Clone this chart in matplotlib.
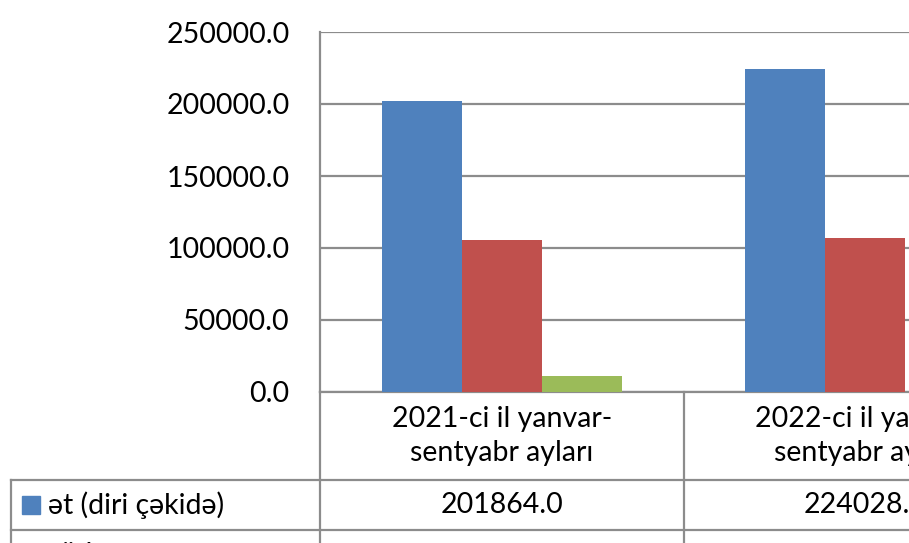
import matplotlib
matplotlib.use("Agg")
import matplotlib.pyplot as plt
from matplotlib.patches import Rectangle
from matplotlib.transforms import blended_transform_factory

# data
categories = ["2021-ci il yanvar-\nsentyabr ayları", "2022-ci il yanvar-\nsentyabr ayları"]
series_names = ["ət (diri çəkidə)", "süd", "yun"]
et = [201864.0, 224028.0]
sud = [105700.0, 107100.0]
yun = [10800.0, 0.0]
colors = ["#4F81BD", "#C0504D", "#9BBB59"]
yticks = [0, 50000, 100000, 150000, 200000, 250000]

grid_c = "#8C8C8C"
fs = 20.5
W, H = 909, 543
fig = plt.figure(figsize=(W / 100, H / 100), dpi=100)
plt.rcParams["font.family"] = ["Lato", "DejaVu Sans"]

# plot area in pixels (extends past right edge like the cropped original)
left_px, top_px, bot_px = 320, 32, 392
cat_px = 363.5
ax = fig.add_axes([left_px / W, 1 - bot_px / H, 2 * cat_px / W, (bot_px - top_px) / H])

bw = 0.22
for i, (vals, c) in enumerate(zip([et, sud, yun], colors)):
    xs = [k + (i - 1) * bw for k in range(len(categories))]
    ax.bar(xs, vals, width=bw, color=c, zorder=3)

ax.set_xlim(-0.5, 1.5)
ax.set_ylim(0, 250000)
ax.set_yticks(yticks)
ax.set_yticklabels([f"{v:.1f}" for v in yticks], fontsize=fs)
ax.tick_params(axis="y", length=0, pad=22)
ax.set_xticks([])
ax.grid(axis="y", color=grid_c, linewidth=1.6, zorder=0)
for s in ["top", "right", "bottom"]:
    ax.spines[s].set_visible(False)
ax.spines["left"].set_color(grid_c)
ax.spines["left"].set_linewidth(1.6)

# data table below
tr = blended_transform_factory(ax.transData, ax.transAxes)
px = 1.0 / (bot_px - top_px)  # one pixel in axes fraction
xl = -0.5 - (left_px - 11) / cat_px
row1 = -(480 - bot_px) * px
row2 = -(530 - bot_px) * px
bottom = -(H + 10 - bot_px) * px
lk = dict(color=grid_c, lw=1.6, transform=tr, clip_on=False)
ax.plot([-0.5, 2], [0, 0], **lk)
ax.plot([xl, 2], [row1, row1], **lk)
ax.plot([xl, 2], [row2, row2], **lk)
ax.plot([xl, xl], [row1, bottom], **lk)
for xv in [-0.5, 0.5, 1.5]:
    ax.plot([xv, xv], [0, bottom], **lk)

for k, cat in enumerate(categories):
    ax.text(k, row1 / 2, cat, ha="center", va="center", fontsize=fs,
            transform=tr, linespacing=1.4)
    ax.text(k, (row1 + row2) / 2, f"{et[k]:.1f}", ha="center", va="center",
            fontsize=fs, transform=tr)

# row labels with legend keys
rows_y = [(row1 + row2) / 2, row2 - (row1 - row2) / 2]
for name, c, yv in zip(series_names[:2], colors[:2], rows_y):
    yf = 1 - (bot_px - yv / px) / H
    fig.patches.append(Rectangle((22 / W, yf - 9 / H), 18 / W, 18 / H,
                                 color=c, transform=fig.transFigure))
    fig.text(48 / W, yf, name, ha="left", va="center", fontsize=fs)

fig.savefig("out.png", dpi=100)
